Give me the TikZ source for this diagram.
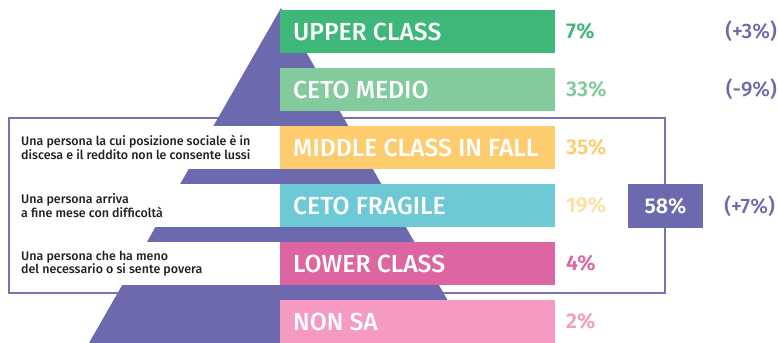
\documentclass[tikz,border=0pt]{standalone}
\usepackage{fontspec}
\setmainfont{Fira Sans}
\newfontfamily\labfont{Fira Sans}[BoldFont={* Medium}]
\newfontfamily\numfont{Fira Sans}[BoldFont={* SemiBold}]
\usetikzlibrary{positioning}
\definecolor{pyr}{HTML}{6C69AF}
\definecolor{frame}{HTML}{7773B6}
\definecolor{cUpper}{HTML}{3DB879}
\definecolor{cMedio}{HTML}{83CA9C}
\definecolor{cFall}{HTML}{FDCC6F}
\definecolor{cFrag}{HTML}{6DC9D6}
\definecolor{cLower}{HTML}{DD65A1}
\definecolor{cNonsa}{HTML}{F49AC3}
\definecolor{cPale}{HTML}{FEE0A2}
\definecolor{ink}{HTML}{231F20}
\tikzset{
  barlabel/.style={anchor=west, inner sep=0pt, text=white, font=\labfont\bfseries\fontsize{24.8}{26}\selectfont},
  pct/.style={anchor=west, inner sep=0pt, font=\numfont\bfseries\fontsize{21.5}{22}\selectfont},
  delta/.style={anchor=east, inner sep=0pt, text=pyr, font=\labfont\bfseries\fontsize{21}{22}\selectfont},
  note/.style={anchor=west, inner sep=0pt, align=left, text=ink, font=\labfont\bfseries\fontsize{12.5}{13.6}\selectfont},
}
\begin{document}
\begin{tikzpicture}[x=1bp, y=-1bp]
\useasboundingbox (0,0) rectangle (778,342);
% frame around the three middle classes
\draw[frame, line width=2bp] (9,118) rectangle (665,293);
% pyramid behind the bars
\fill[pyr] (281,8) -- (472,343) -- (89,343) -- cycle;
% white stripes hiding the pyramid where the notes stand
\foreach \t in {126,184,242} \fill[white] (10,\t) rectangle (281,\t+43);
% bars
\fill[cUpper] (280,10)  rectangle (555,53);
\fill[cMedio] (280,68)  rectangle (555,111);
\fill[cFall]  (280,126) rectangle (555,169);
\fill[cFrag]  (280,184) rectangle (555,227);
\fill[cLower] (280,242) rectangle (555,285);
\fill[cNonsa] (280,300) rectangle (555,343);
% bar labels
\node[barlabel] (lUpper) at (293,31.5)  {UPPER CLASS};
\node[barlabel] (lMedio) at (293,89.5)  {CETO MEDIO};
\node[barlabel] (lFall)  at (293,147.5) {MIDDLE CLASS IN FALL};
\node[barlabel] (lFrag)  at (293,205.5) {CETO FRAGILE};
\node[barlabel] (lLower) at (293,263.5) {LOWER CLASS};
\node[barlabel] (lNonsa) at (293,321.5) {NON SA};
% percentages
\node[pct, text=cUpper] (pUpper) at (566,31.5)  {7\%};
\node[pct, text=cMedio] (pMedio) at (566,89.5)  {33\%};
\node[pct, text=cFall]  (pFall)  at (566,147.5) {35\%};
\node[pct, text=cPale]  (pFrag)  at (566,205.5) {19\%};
\node[pct, text=cLower] (pLower) at (566,263.5) {4\%};
\node[pct, text=cNonsa] (pNonsa) at (566,321.5) {2\%};
% total box on the frame
\fill[pyr] (628,184) rectangle (703,228);
\node[pct, anchor=center, text=white] (tot) at (665.5,206) {58\%};
% changes
\node[delta] (dUpper) at (777,31.5) {(+3\%)};
\node[delta] (dMedio) at (777,89.5) {(-9\%)};
\node[delta] (dTot)   at (775,206)  {(+7\%)};
% notes
\node[note] (nFall)  at (21,147.5) {Una persona la cui posizione sociale è in\\discesa e il reddito non le consente lussi};
\node[note] (nFrag)  at (21,205.5) {Una persona arriva\\a fine mese con difficoltà};
\node[note] (nLower) at (21,263.5) {Una persona che ha meno\\del necessario o si sente povera};
\end{tikzpicture}
\end{document}
